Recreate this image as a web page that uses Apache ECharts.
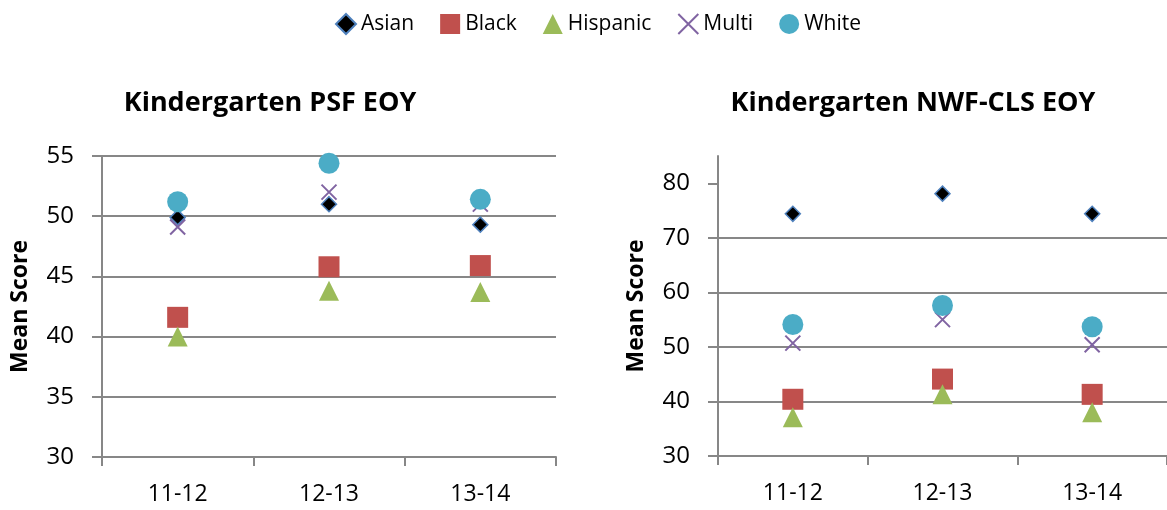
<!DOCTYPE html>
<html>
<head>
<meta charset="utf-8">
<script src="https://cdn.jsdelivr.net/npm/echarts@6/dist/echarts.min.js"></script>
<style>
  html, body { margin: 0; padding: 0; background: #fff; }
  #main { width: 1167px; height: 510px; }
</style>
</head>
<body>
<div id="main"></div>
<script>
// data
var years = ['11-12', '12-13', '13-14'];
var groups = ['Asian', 'Black', 'Hispanic', 'Multi', 'White'];

var psfAsian    = [49.9, 51.0, 49.3];
var psfBlack    = [41.6, 45.8, 45.9];
var psfHispanic = [40.0, 43.8, 43.7];
var psfMulti    = [49.1, 52.0, 51.0];
var psfWhite    = [51.2, 54.4, 51.4];

var nwfAsian    = [74.4, 78.1, 74.4];
var nwfBlack    = [40.4, 44.1, 41.3];
var nwfHispanic = [37.1, 41.3, 38.0];
var nwfMulti    = [50.7, 55.0, 50.4];
var nwfWhite    = [54.1, 57.6, 53.7];

var psfTicks = [30, 35, 40, 45, 50, 55];
var nwfTicks = [30, 40, 50, 60, 70, 80];

var titles = ['Kindergarten PSF EOY', 'Kindergarten NWF-CLS EOY'];

var font = '"Open Sans", "Noto Sans", sans-serif';
var gridGray = '#878787';

// marker looks per group
var looks = {
  Asian:    {symbol: 'diamond', size: 15, itemStyle: {color: '#000', borderColor: '#4F81BD', borderWidth: 1.5, opacity: 1}},
  Black:    {symbol: 'rect', size: 21, itemStyle: {color: '#C0504D', opacity: 1}},
  Hispanic: {symbol: 'triangle', size: 20, itemStyle: {color: '#9BBB59', opacity: 1}},
  Multi:    {symbol: 'path://M0,0L10,10M10,0L0,10', size: 15, itemStyle: {color: 'rgba(0,0,0,0)', borderColor: '#8064A2', borderWidth: 2, opacity: 1}},
  White:    {symbol: 'circle', size: 21, itemStyle: {color: '#4BACC6', opacity: 1}}
};

var psfData = [psfAsian, psfBlack, psfHispanic, psfMulti, psfWhite];
var nwfData = [nwfAsian, nwfBlack, nwfHispanic, nwfMulti, nwfWhite];

function makeSeries(vals, idx) {
  return groups.map(function (g, i) {
    var lk = looks[g];
    return {
      name: g,
      type: 'scatter',
      xAxisIndex: idx,
      yAxisIndex: idx,
      symbol: lk.symbol,
      symbolSize: lk.size,
      itemStyle: lk.itemStyle,
      emphasis: {disabled: true},
      data: vals[i]
    };
  });
}

function xAx(idx) {
  return {
    type: 'category',
    gridIndex: idx,
    data: years,
    boundaryGap: true,
    axisLine: {lineStyle: {color: gridGray, width: 2}},
    axisTick: {show: true, length: 9, lineStyle: {color: gridGray, width: 2}},
    axisLabel: {color: '#000', fontSize: 23, fontFamily: font, margin: 26},
    splitLine: {show: false}
  };
}

function yAx(idx, mn, mx, step, ticks) {
  return {
    type: 'value',
    gridIndex: idx,
    min: mn, max: mx, interval: step,
    name: 'Mean Score',
    nameLocation: 'middle',
    nameGap: 70,
    nameTextStyle: {color: '#000', fontSize: 23, fontWeight: 'bold', fontFamily: font},
    axisLine: {show: true, lineStyle: {color: gridGray, width: 2}},
    axisTick: {show: true, length: 10, customValues: ticks, lineStyle: {color: gridGray, width: 2}},
    axisLabel: {color: '#000', fontSize: 24, fontFamily: font, margin: 28, customValues: ticks},
    splitLine: {show: true, showMaxLine: ticks[ticks.length - 1] === mx, lineStyle: {color: gridGray, width: 2}}
  };
}

var chart = echarts.init(document.getElementById('main'));
var option = {
  animation: false,
  backgroundColor: '#fff',
  title: [
    {text: titles[0], left: 265, top: 85, textAlign: 'center',
     textStyle: {fontSize: 27, fontWeight: 'bold', color: '#000', fontFamily: font}},
    {text: titles[1], left: 908, top: 85, textAlign: 'center',
     textStyle: {fontSize: 27, fontWeight: 'bold', color: '#000', fontFamily: font}}
  ],
  legend: {
    data: groups,
    top: 8,
    left: 330,
    itemGap: 26,
    itemWidth: 20,
    itemHeight: 20,
    textStyle: {fontSize: 21, color: '#000', fontFamily: font}
  },
  grid: [
    {left: 102, top: 156, width: 454, height: 301},
    {left: 718, top: 156, width: 452, height: 300}
  ],
  xAxis: [xAx(0), xAx(1)],
  yAxis: [yAx(0, 30, 55, 5, psfTicks), yAx(1, 30, 85, 10, nwfTicks)],
  series: makeSeries(psfData, 0).concat(makeSeries(nwfData, 1))
};
chart.setOption(option);
</script>
</body>
</html>
